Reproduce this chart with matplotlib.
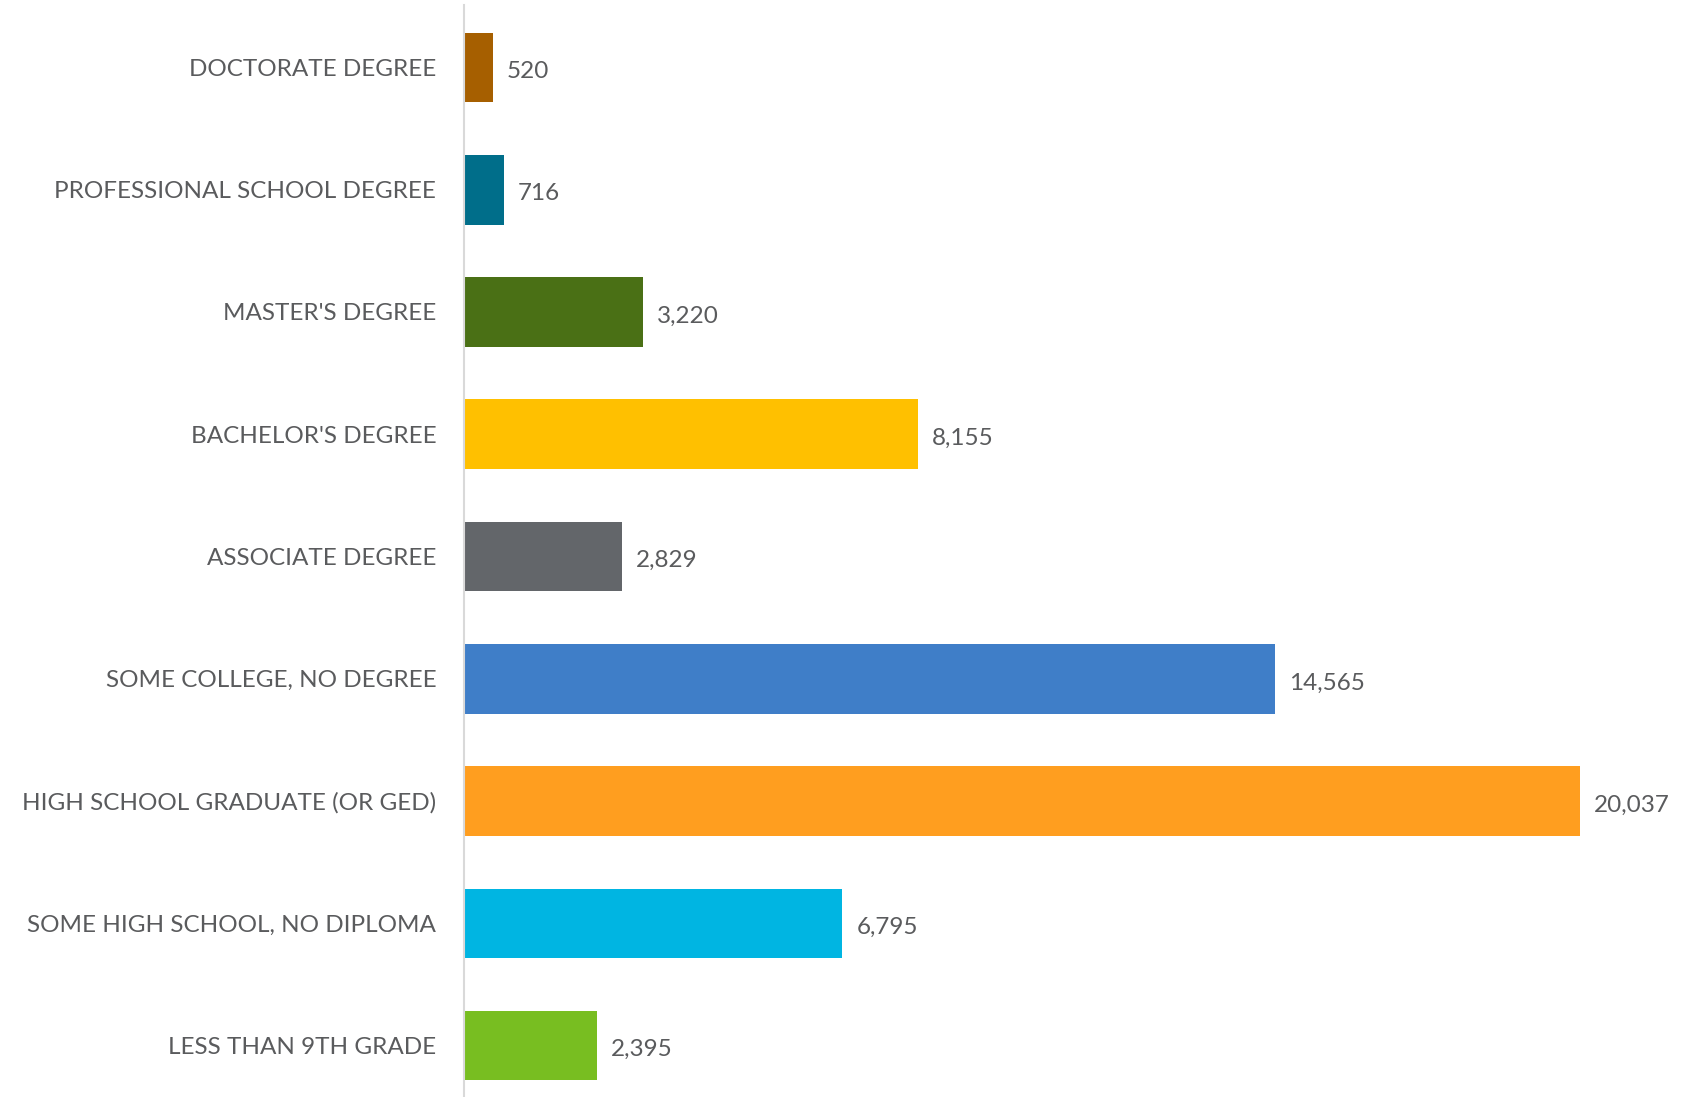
import matplotlib
matplotlib.use("Agg")
import matplotlib.pyplot as plt

# data (bottom -> top)
categories = [
    "LESS THAN 9TH GRADE",
    "SOME HIGH SCHOOL, NO DIPLOMA",
    "HIGH SCHOOL GRADUATE (OR GED)",
    "SOME COLLEGE, NO DEGREE",
    "ASSOCIATE DEGREE",
    "BACHELOR'S DEGREE",
    "MASTER'S DEGREE",
    "PROFESSIONAL SCHOOL DEGREE",
    "DOCTORATE DEGREE",
]
values = [2395, 6795, 20037, 14565, 2829, 8155, 3220, 716, 520]
colors = ["#78BE21", "#00B5E2", "#FF9E1F", "#3F7EC8", "#63666A",
          "#FFC000", "#4A7015", "#006E8A", "#A65F00"]

TXT = "#5A5B5D"
plt.rcParams["font.family"] = ["Lato", "DejaVu Sans"]

fig = plt.figure(figsize=(16.87, 10.97), dpi=100)
ax = fig.add_axes([464 / 1687, 0.0, 1 - 464 / 1687, 1 - 5 / 1097])

y = list(range(len(categories)))
ax.barh(y, values, height=0.57, color=colors, zorder=2)

ax.set_xlim(0, 21960)
ax.set_ylim(-0.42, 8.51)

ax.set_yticks(y)
ax.set_yticklabels(categories, fontsize=17.5, color=TXT)
ax.tick_params(axis="y", length=0, pad=20)
ax.set_xticks([])

for s in ["top", "right", "bottom"]:
    ax.spines[s].set_visible(False)
ax.spines["left"].set_color("#D9D9D9")
ax.spines["left"].set_linewidth(1.5)

for yi, v in zip(y, values):
    ax.annotate(f"{v:,}", xy=(v, yi), xytext=(10, -3), textcoords="offset points",
                ha="left", va="center", fontsize=17.5, color=TXT)

fig.savefig("out.png", dpi=100)
